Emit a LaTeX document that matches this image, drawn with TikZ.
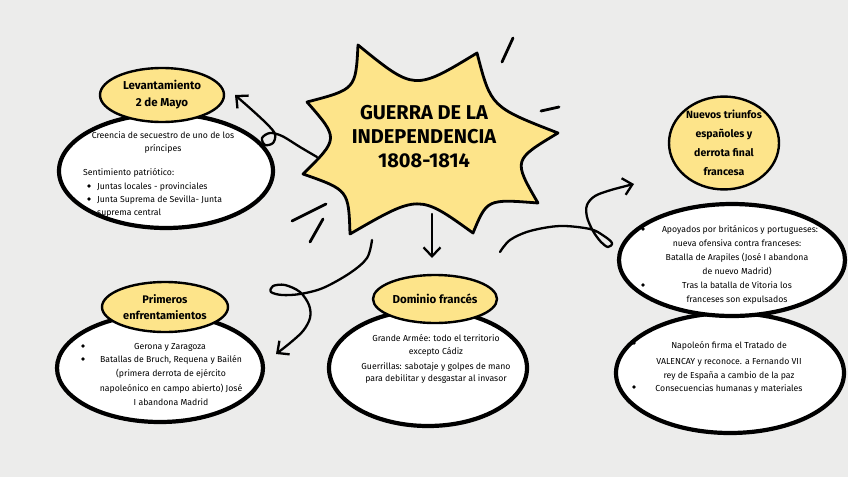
\documentclass[tikz,border=0pt]{standalone}
\usepackage{fontspec}
\setmainfont{Fira Sans}
\usetikzlibrary{arrows.meta,shapes.geometric}
\definecolor{bg}{RGB}{236,236,235}
\definecolor{hl}{RGB}{253,228,138}
\begin{document}
\begin{tikzpicture}[x=1pt,y=-1pt,
  whiteblob/.style={ellipse,draw=black,fill=white,line width=4.2pt,inner sep=0pt},
  yellowblob/.style={ellipse,draw=black,fill=hl,line width=2.4pt,inner sep=0pt,align=center,font=\bfseries\fontsize{11.5}{17}\selectfont},
  body/.style={anchor=base,inner sep=0pt,font=\fontsize{8.7}{10}\selectfont},
  bodyw/.style={body,anchor=base west},
  bul/.style={circle,fill=black,inner sep=0pt,minimum size=3.6pt},
  conn/.style={line width=2.3pt,line cap=round,line join=round,-{Straight Barb[length=9pt,width=17pt,line width=2.3pt]}},
  stroke/.style={line width=2.8pt,line cap=round}]
\useasboundingbox (0,0) rectangle (848,477);
\fill[bg] (0,0) rectangle (848,477);

% starburst
\filldraw[fill=hl,draw=black,line width=2.8pt,line join=round]
  (358,45) .. controls (414.5,91) .. (477,53)
  .. controls (491,107) .. (558,133)
  .. controls (513,160) .. (538,203)
  .. controls (487,199) .. (473,233)
  .. controls (419,194) .. (350,234)
  .. controls (348.6,190) .. (303,174)
  .. controls (339,138.6) .. (307,102)
  .. controls (355.7,89.3) .. (358,45) -- cycle;
\node[align=center,inner sep=0pt,font=\bfseries\fontsize{20}{24}\selectfont] (title) at (424,137) {GUERRA DE LA\\INDEPENDENCIA\\1808-1814};

% decorative strokes
\draw[stroke] (502,62) -- (513,38);
\draw[stroke] (541,111) -- (559,107);
\draw[stroke] (292,221) -- (326,204);
\draw[stroke] (310,242) -- (323,219);

% Levantamiento
\node[whiteblob,minimum width=214,minimum height=114] (levB) at (166,171) {};
\node[yellowblob,minimum width=124,minimum height=54] (lev) at (162,95) {Levantamiento\\2 de Mayo};
\node[body] (lv1) at (163,138) {Creencia de secuestro de uno de los};
\node[body] (lv2) at (163,151) {príncipes};
\node[bodyw] (lv3) at (83,175) {Sentimiento patriótico:};
\node[bul] (lvb1) at (89,186) {};
\node[bul] (lvb2) at (89,199) {};
\node[bodyw] (lv4) at (97,189) {Juntas locales - provinciales};
\node[bodyw] (lv5) at (97,202) {Junta Suprema de Sevilla- Junta};
\node[bodyw] (lv6) at (97,215) {suprema central};

% Primeros enfrentamientos
\node[whiteblob,minimum width=206,minimum height=108] (priB) at (160,368) {};
\node[yellowblob,minimum width=126,minimum height=50,font=\bfseries\fontsize{11}{16}\selectfont] (pri) at (165,307) {Primeros\\enfrentamientos};
\node[bul] (prb1) at (83,346) {};
\node[bul] (prb2) at (83,359) {};
\node[body] (pr1) at (170,349) {Gerona y Zaragoza};
\node[body] (pr2) at (171,362) {Batallas de Bruch, Requena y Bailén};
\node[body] (pr3) at (171,376) {(primera derrota de ejército};
\node[body] (pr4) at (171,391) {napoleónico en campo abierto) José};
\node[body] (pr5) at (171,405) {I abandona Madrid};

% Dominio frances
\node[whiteblob,minimum width=198,minimum height=116] (domB) at (428,368) {};
\node[yellowblob,minimum width=124,minimum height=48] (dom) at (435,299) {Dominio francés};
\node[body] (dm1) at (436,341) {Grande Armée: todo el territorio};
\node[body] (dm2) at (436,354) {excepto Cádiz};
\node[body] (dm3) at (436,369) {Guerrillas: sabotaje y golpes de mano};
\node[body] (dm4) at (436,381) {para debilitar y desgastar al invasor};

% Nuevos triunfos
\node[whiteblob,minimum width=228,minimum height=120] (nvC) at (730,373) {};
\node[whiteblob,minimum width=226,minimum height=112] (nvB) at (732,260) {};
\node[yellowblob,minimum width=110,minimum height=92,font=\bfseries\fontsize{10.5}{19}\selectfont] (nv) at (724,143) {Nuevos triunfos\\españoles y\\derrota final\\francesa};
\node[bul] (nvb1) at (643,229) {};
\node[bul] (nvb2) at (643,285) {};
\node[body] (nv1) at (740,232) {Apoyados por británicos y portugueses:};
\node[body] (nv2) at (737,246) {nueva ofensiva contra franceses:};
\node[body] (nv3) at (737,260) {Batalla de Arapiles (José I abandona};
\node[body] (nv4) at (737,274) {de nuevo Madrid)};
\node[body] (nv5) at (737,288) {Tras la batalla de Vitoria los};
\node[body] (nv6) at (737,302) {franceses son expulsados};
\node[bul] (nvb3) at (634,343) {};
\node[bul] (nvb4) at (634,387) {};
\node[body] (nc1) at (729,348) {Napoleón firma el Tratado de};
\node[body] (nc2) at (729,364) {VALENCAY y reconoce. a Fernando VII};
\node[body] (nc3) at (729,378) {rey de España a cambio de la paz};
\node[body] (nc4) at (729,391) {Consecuencias humanas y materiales};

% connectors
\coordinate (a0) at (317,157);
\coordinate (a1) at (235,95);
\draw[conn] plot[smooth,tension=0.55] coordinates {(a0) (300,147) (282,136) (270,133) (262,138) (265,145) (273,143) (275,134) (267,124) (252,110) (a1)};

\coordinate (b0) at (372,240);
\coordinate (b1) at (276,354);
\draw[conn] plot[smooth,tension=0.55] coordinates {(b0) (367,258) (350,273) (323,288) (300,294) (282,295) (271,292) (273,286) (285,285) (300,292) (309,305) (310,318) (303,331) (290,343) (b1)};

\coordinate (c0) at (500,252);
\coordinate (c1) at (634,184);
\draw[conn] plot[smooth,tension=0.55] coordinates {(c0) (510,240) (530,231) (560,226) (590,229) (604,236) (612,243) (608,247) (601,242) (593,231) (587,217) (587,205) (595,196) (611,190) (c1)};

\coordinate (d0) at (432,214);
\coordinate (d1) at (432,258);
\draw[conn] (d0) -- (d1);
\end{tikzpicture}
\end{document}
